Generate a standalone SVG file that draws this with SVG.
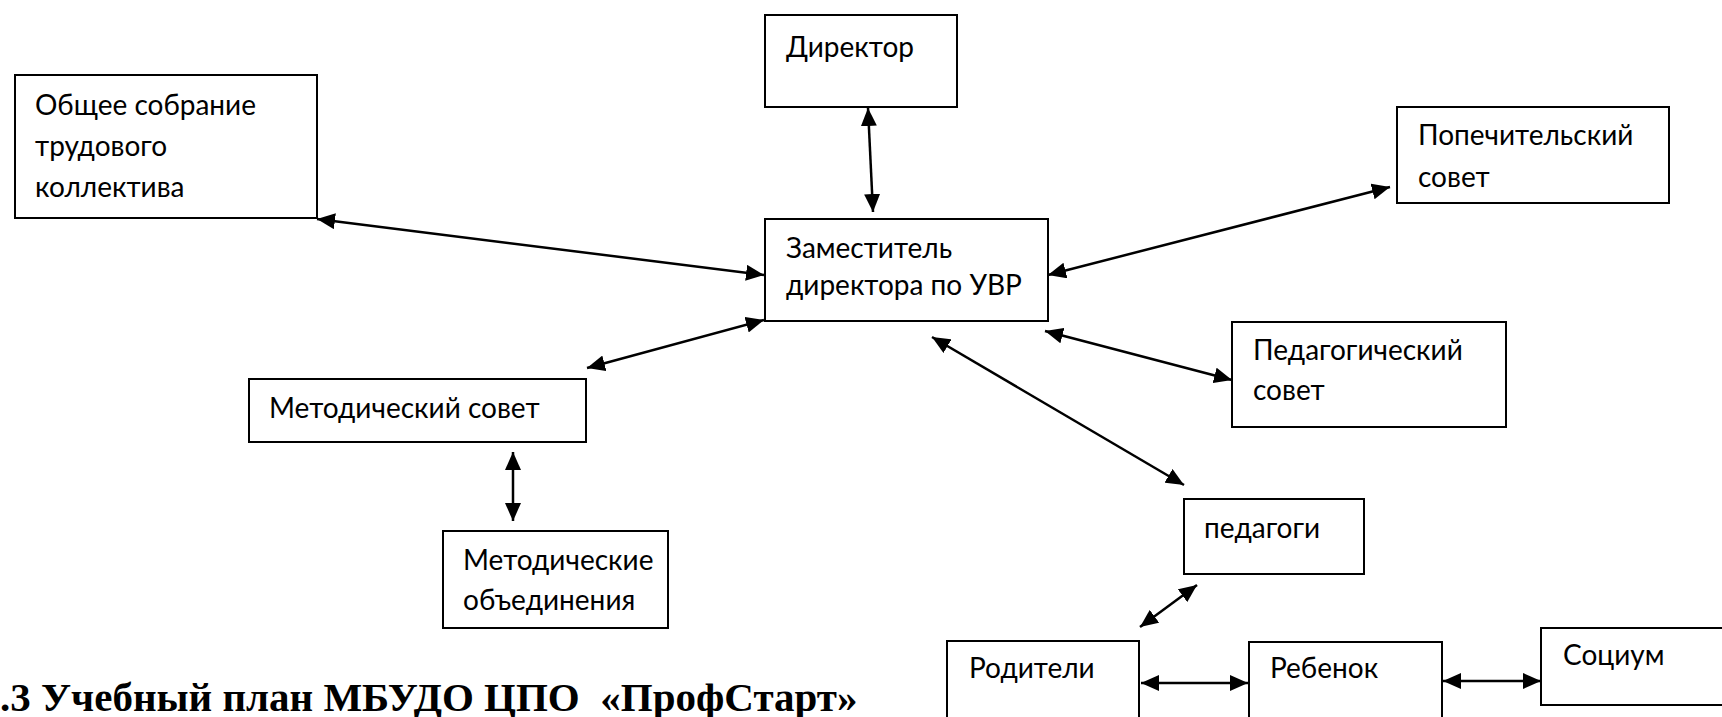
<svg xmlns="http://www.w3.org/2000/svg" width="1722" height="717" viewBox="0 0 1722 717">
<style>
.box{fill:#fff;stroke:#000;stroke-width:2}
.t{font-family:Lato,"Open Sans","Liberation Sans",sans-serif;font-size:28px;fill:#000}
.c line{stroke:#000;stroke-width:2.5;marker-start:url(#ah);marker-end:url(#ah)}
.title{font-family:"Liberation Serif","Times New Roman",serif;font-weight:bold;font-size:41px;fill:#000;white-space:pre}
</style>
<defs>
<marker id="ah" markerUnits="userSpaceOnUse" markerWidth="20" markerHeight="16" refX="18" refY="8" orient="auto-start-reverse">
<path d="M0,0 L18,8 L0,16 z" fill="#000"/>
</marker>
</defs>
<rect width="1722" height="717" fill="#fff"/>
<g id="n-obshchee"><rect class="box" x="15" y="75" width="302" height="143"/><text class="t" x="35" y="115">Общее собрание</text><text class="t" x="35" y="156">трудового</text><text class="t" x="35" y="197">коллектива</text></g>
<g id="n-director"><rect class="box" x="765" y="15" width="192" height="92"/><text class="t" x="786" y="57">Директор</text></g>
<g id="n-zam"><rect class="box" x="765" y="219" width="283" height="102"/><text class="t" x="786" y="258">Заместитель</text><text class="t" x="786" y="295">директора по УВР</text></g>
<g id="n-popech"><rect class="box" x="1397" y="107" width="272" height="96"/><text class="t" x="1418" y="145">Попечительский</text><text class="t" x="1418" y="187">совет</text></g>
<g id="n-metsovet"><rect class="box" x="249" y="379" width="337" height="63"/><text class="t" x="269" y="418">Методический совет</text></g>
<g id="n-metob"><rect class="box" x="443" y="531" width="225" height="97"/><text class="t" x="463" y="570">Методические</text><text class="t" x="463" y="610">объединения</text></g>
<g id="n-pedsovet"><rect class="box" x="1232" y="322" width="274" height="105"/><text class="t" x="1253" y="360">Педагогический</text><text class="t" x="1253" y="400">совет</text></g>
<g id="n-pedagogi"><rect class="box" x="1184" y="499" width="180" height="75"/><text class="t" x="1204" y="538">педагоги</text></g>
<g id="n-roditeli"><rect class="box" x="947" y="641" width="192" height="100"/><text class="t" x="969" y="678">Родители</text></g>
<g id="n-rebenok"><rect class="box" x="1249" y="642" width="193" height="100"/><text class="t" x="1270" y="678">Ребенок</text></g>
<g id="n-socium"><rect class="box" x="1541" y="628" width="200" height="77"/><text class="t" x="1563" y="665">Социум</text></g>
<g id="connectors" class="c">
<line x1="868" y1="108" x2="873" y2="212"/>
<line x1="317" y1="219" x2="764" y2="275"/>
<line x1="1048" y1="275" x2="1390" y2="187"/>
<line x1="587" y1="368" x2="764" y2="320"/>
<line x1="1045" y1="331" x2="1232" y2="380"/>
<line x1="932" y1="337" x2="1184" y2="485"/>
<line x1="513" y1="452" x2="513" y2="521"/>
<line x1="1197" y1="585" x2="1140" y2="627"/>
<line x1="1141" y1="683" x2="1248" y2="683"/>
<line x1="1443" y1="681" x2="1541" y2="681"/>
</g>
<text class="title" x="0" y="711" xml:space="preserve">.3 Учебный план МБУДО ЦПО  «ПрофСтарт»</text>
</svg>
